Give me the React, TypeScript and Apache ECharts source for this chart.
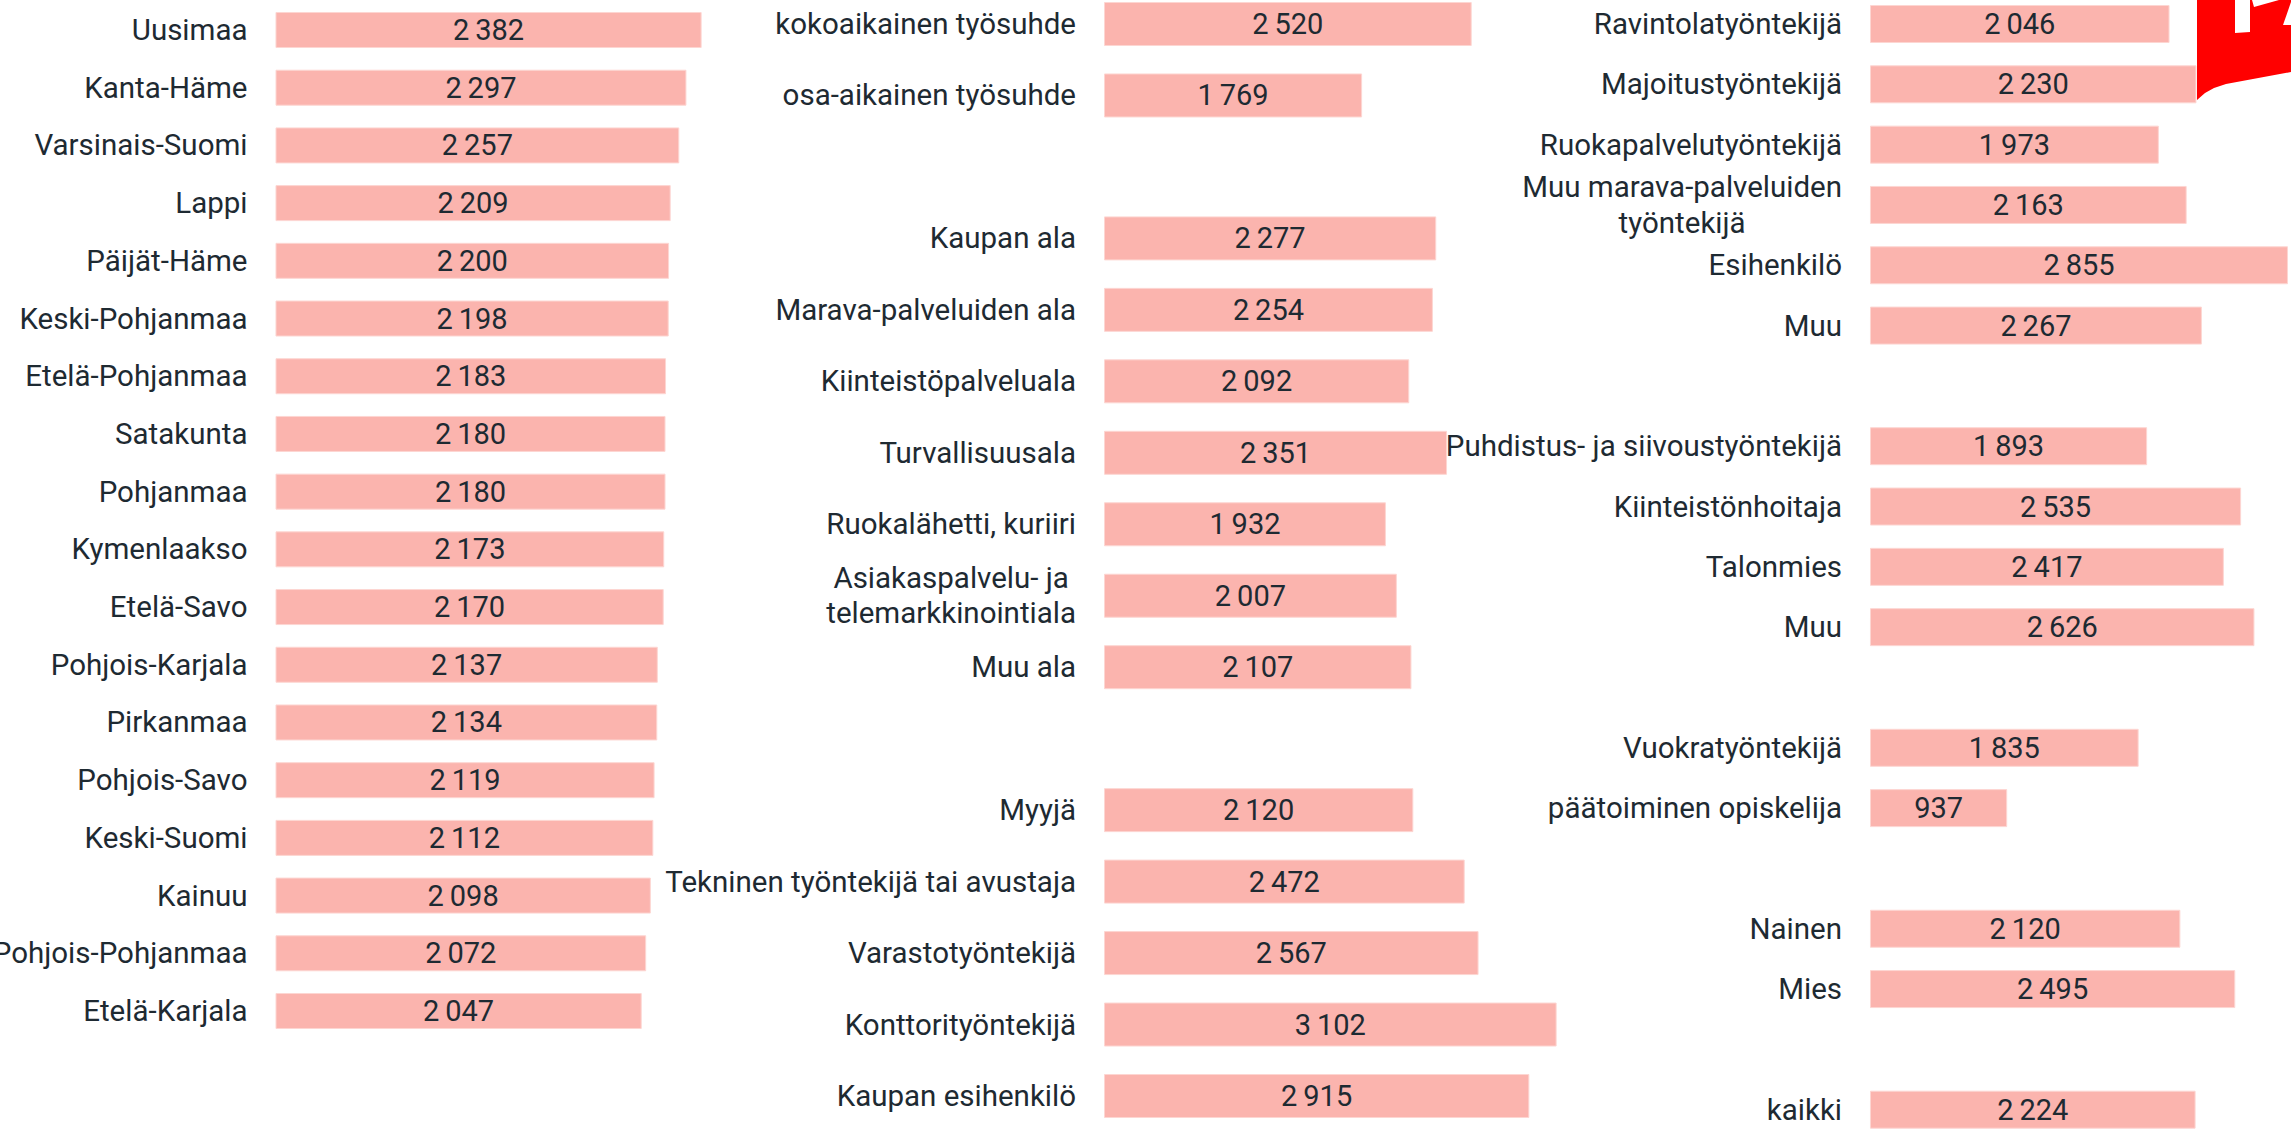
import React, { useEffect, useRef } from "react";
import * as echarts from "echarts";

const regionLabels = [
  "Uusimaa", "Kanta-Häme", "Varsinais-Suomi", "Lappi", "Päijät-Häme", "Keski-Pohjanmaa",
  "Etelä-Pohjanmaa", "Satakunta", "Pohjanmaa", "Kymenlaakso", "Etelä-Savo", "Pohjois-Karjala",
  "Pirkanmaa", "Pohjois-Savo", "Keski-Suomi", "Kainuu", "Pohjois-Pohjanmaa", "Etelä-Karjala",
];
const regionValues = [2382, 2297, 2257, 2209, 2200, 2198, 2183, 2180, 2180, 2173, 2170, 2137, 2134, 2119, 2112, 2098, 2072, 2047];

const midLabels = [
  "kokoaikainen työsuhde", "osa-aikainen työsuhde", "",
  "Kaupan ala", "Marava-palveluiden ala", "Kiinteistöpalveluala", "Turvallisuusala",
  "Ruokalähetti, kuriiri", "Asiakaspalvelu- ja\ntelemarkkinointiala", "Muu ala", "",
  "Myyjä", "Tekninen työntekijä tai avustaja", "Varastotyöntekijä", "Konttorityöntekijä", "Kaupan esihenkilö",
];
const midValues = [2520, 1769, null, 2277, 2254, 2092, 2351, 1932, 2007, 2107, null, 2120, 2472, 2567, 3102, 2915];

const rightLabels = [
  "Ravintolatyöntekijä", "Majoitustyöntekijä", "Ruokapalvelutyöntekijä", "Muu marava-palveluiden\ntyöntekijä",
  "Esihenkilö", "Muu", "",
  "Puhdistus- ja siivoustyöntekijä", "Kiinteistönhoitaja", "Talonmies", "Muu", "",
  "Vuokratyöntekijä", "päätoiminen opiskelija", "",
  "Nainen", "Mies", "",
  "kaikki",
];
const rightValues = [2046, 2230, 1973, 2163, 2855, 2267, null, 1893, 2535, 2417, 2626, null, 1835, 937, null, 2120, 2495, null, 2224];

const FONT = "Roboto";
const TEXT = "#1e2a32";
const BAR = "#fbb4ae";
const LABEL_SIZE = 29.5;
const VALUE_SIZE = 29;

const fmt = (v: number) => {
  const s = String(v);
  return s.length > 3 ? s.slice(0, -3) + "\u2009" + s.slice(-3) : s;
};

export default function App() {
  const ref = useRef<HTMLDivElement>(null);
  useEffect(() => {
    if (!ref.current) return;
    const chart = echarts.init(ref.current, undefined, { renderer: "svg" });

    const panels = [
      { labels: regionLabels, values: regionValues, left: 275.5, width: 536.7, max: 3000, top: 30, height: 981, bw: 36, lh: 34 },
      { labels: midLabels, values: midValues, left: 1104, width: 510.7, max: 3500, top: 24, height: 1072, bw: 44, lh: 35 },
      { labels: rightLabels, values: rightValues, left: 1870, width: 439.2, max: 3000, top: 24, height: 1085.7, bw: 38, lh: 36 },
    ];

    const option: any = {
      animation: false,
      backgroundColor: "#ffffff",
      grid: panels.map((p) => ({
        left: p.left, top: p.top, width: p.width, height: p.height,
        containLabel: false, outerBoundsMode: "none",
      })),
      xAxis: panels.map((p, i) => ({
        type: "value", gridIndex: i, min: 0, max: p.max, show: false,
      })),
      yAxis: panels.map((p, i) => ({
        type: "category", gridIndex: i, inverse: true, boundaryGap: false,
        data: p.labels.map((_, k) => String(k)),
        axisLine: { show: false }, axisTick: { show: false }, splitLine: { show: false },
        axisLabel: {
          interval: 0, margin: 28, fontSize: LABEL_SIZE, color: TEXT, fontFamily: FONT, lineHeight: p.lh,
          formatter: (_v: string, k: number) => (p.labels[k] ? "{c|" + p.labels[k] + "}" : ""),
          rich: { c: { align: "center", fontSize: LABEL_SIZE, color: TEXT, fontFamily: FONT, lineHeight: p.lh } },
        },
      })),
      series: panels.map((p, i) => ({
        type: "bar", xAxisIndex: i, yAxisIndex: i, data: p.values, barWidth: p.bw,
        itemStyle: { color: BAR, borderColor: "#fdd6d2", borderWidth: 1 },
        label: {
          show: true, position: "inside", fontSize: VALUE_SIZE, color: TEXT, fontFamily: FONT,
          formatter: (d: any) => fmt(d.value),
        },
      })),
      graphic: [
        {
          type: "polygon", z: 100,
          shape: { points: [[2197, 0], [2291, 0], [2291, 72], [2226, 84], [2214, 88], [2205, 93], [2197, 100]] },
          style: { fill: "#ff0000" },
        },
        { type: "polygon", z: 101, shape: { points: [[2235, 0], [2250, 0], [2250, 32], [2235, 33]] }, style: { fill: "#ffffff" } },
        { type: "polygon", z: 101, shape: { points: [[2252, 0], [2279, 0], [2254, 7]] }, style: { fill: "#ffffff" } },
        { type: "polygon", z: 101, shape: { points: [[2283, 25], [2291, 2], [2291, 25]] }, style: { fill: "#ffffff" } },
      ],
    };
    chart.setOption(option);
    return () => chart.dispose();
  }, []);
  return <div ref={ref} style={{ position: "absolute", left: 0, top: 0, width: 2291, height: 1132 }} />;
}
